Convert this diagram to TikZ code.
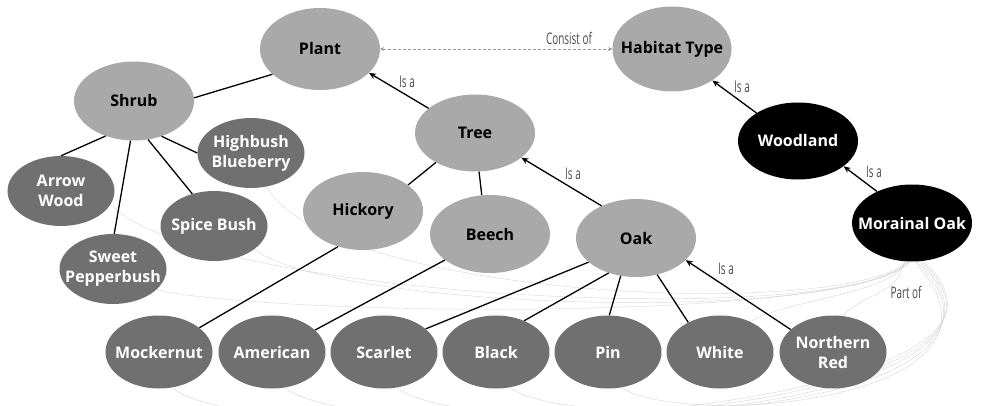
\documentclass[tikz,border=0pt]{standalone}
\usepackage{fontspec}
\setmainfont{Open Sans}
\newfontfamily\lblfont[FakeStretch=0.62]{Open Sans}
\usetikzlibrary{arrows.meta,shapes.geometric}
\definecolor{lightnode}{HTML}{A9A9A9}
\definecolor{darknode}{HTML}{707070}
\definecolor{lbltext}{HTML}{4A4A4A}
\definecolor{partline}{HTML}{CFCFCF}
\definecolor{consistline}{HTML}{9A9A9A}
\pgfdeclarelayer{background}
\pgfsetlayers{background,main}
\begin{document}
\begin{tikzpicture}[x=1pt,y=-1pt,
  base/.style={ellipse, inner sep=-30pt, align=center, font=\fontsize{16}{20}\selectfont\bfseries},
  lightn/.style={base, fill=lightnode, text=black, minimum width=120pt, minimum height=78pt},
  darkn/.style={base, fill=darknode, text=white, minimum width=107pt, minimum height=70pt},
  blackn/.style={base, fill=black, text=white, minimum width=120pt, minimum height=77pt},
  link/.style={line width=1.3pt, black},
  isa/.style={link, -{Stealth[length=7pt,width=6pt]}},
  lbl/.style={font=\lblfont\fontsize{16}{18}\selectfont, text=lbltext, inner sep=0pt},
  consist/.style={line width=0.8pt, consistline, dash pattern=on 3pt off 2pt, {Stealth[length=4pt,width=4pt]}-{Stealth[length=4pt,width=4pt]}},
  partof/.style={line width=0.5pt, partline, dash pattern=on 1.2pt off 0.6pt},
]
\useasboundingbox (0,0) rectangle (984,406);

% nodes
\node[lightn, minimum height=82pt] (plant) at (320,49) {Plant};
\node[lightn, minimum width=119pt, minimum height=85pt] (habitat) at (672,49) {Habitat Type};
\node[lightn, minimum height=79pt] (shrub) at (134,101) {Shrub};
\node[lightn, minimum height=77pt] (tree) at (475,133) {Tree};
\node[blackn] (woodland) at (798,141) {Woodland};
\node[darkn] (highbush) at (251,153) {Highbush\\Blueberry};
\node[darkn] (arrowwood) at (61,191) {Arrow\\Wood};
\node[darkn] (spice) at (214,226) {Spice Bush};
\node[lightn] (hickory) at (363,211) {Hickory};
\node[lightn] (beech) at (490,234) {Beech};
\node[lightn] (oak) at (636,238) {Oak};
\node[blackn] (morainal) at (912,223) {Morainal Oak};
\node[darkn] (sweet) at (113,269) {Sweet\\Pepperbush};
\node[darkn, minimum height=73pt] (mockernut) at (159,352) {Mockernut};
\node[darkn, minimum height=73pt] (american) at (272,352) {American};
\node[darkn, minimum height=73pt] (scarlet) at (384,352) {Scarlet};
\node[darkn, minimum height=73pt] (black) at (496,352) {Black};
\node[darkn, minimum height=73pt] (pin) at (608,352) {Pin};
\node[darkn, minimum height=73pt] (white) at (720,352) {White};
\node[darkn, minimum height=73pt] (nred) at (833,352) {Northern\\Red};

% labels
\node[lbl] (l1) at (407,82) {Is a};
\node[lbl] (l2) at (573,174) {Is a};
\node[lbl] (l3) at (726,269) {Is a};
\node[lbl] (l4) at (742,87) {Is a};
\node[lbl] (l5) at (874,172) {Is a};
\node[lbl] (l6) at (569,38) {Consist of};
\node[lbl] (l7) at (906,292) {Part of};

% part-of curves
\begin{pgfonlayer}{background}
\draw[partof] (highbush.295) .. controls (330,300) and (850,320) .. (morainal.262);
\draw[partof] (spice.330) .. controls (330,310) and (850,325) .. (morainal.264);
\draw[partof] (arrowwood.345) .. controls (200,300) and (850,330) .. (morainal.266);
\draw[partof] (sweet.335) .. controls (250,315) and (850,325) .. (morainal.268);
\draw[partof] (white.45) .. controls (785,300) and (900,292) .. (morainal.259);
\draw[partof] (nred.75) .. controls (860,295) and (905,292) .. (morainal.256);
\draw[partof] (mockernut.290) .. controls (260,460) and (1100,420) .. (morainal.286);
\draw[partof] (american.290) .. controls (370,455) and (1090,415) .. (morainal.283);
\draw[partof] (scarlet.290) .. controls (480,450) and (1075,410) .. (morainal.280);
\draw[partof] (black.290) .. controls (590,440) and (1060,405) .. (morainal.277);
\draw[partof] (pin.290) .. controls (690,430) and (1040,400) .. (morainal.274);
\end{pgfonlayer}

% links
\draw[link] (shrub.3) -- (plant.208);
\draw[link] (shrub.231) -- (arrowwood.90);
\draw[link] (shrub.265) -- (sweet.88);
\draw[link] (shrub.290) -- (spice.124);
\draw[link] (shrub.308) -- (highbush.180);
\draw[isa] (tree.152) -- (plant.334);
\draw[link] (tree.217) -- (hickory.30);
\draw[link] (tree.276) -- (beech.102);
\draw[isa] (oak.137) -- (tree.332);
\draw[link] (hickory.235) -- (mockernut.31);
\draw[link] (beech.210) -- (american.27);
\draw[link] (oak.207) -- (scarlet.29);
\draw[link] (oak.232) -- (black.48);
\draw[link] (oak.248) -- (pin.88);
\draw[link] (oak.300) -- (white.137);
\draw[isa] (nred.152) -- (oak.336);
\draw[isa] (woodland.146) -- (habitat.322);
\draw[isa] (morainal.138) -- (woodland.331);
\draw[consist] (plant.east) -- (habitat.west);
\end{tikzpicture}
\end{document}
